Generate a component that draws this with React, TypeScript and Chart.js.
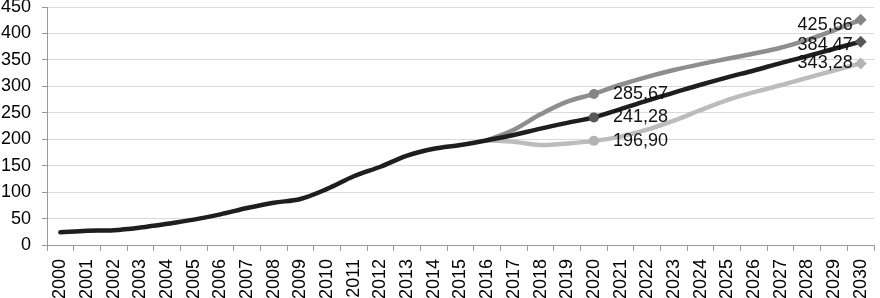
import React, { useEffect, useRef } from "react";
import { Chart, registerables } from "chart.js";

Chart.register(...registerables);

const years: string[] = [];
for (let y = 2000; y <= 2030; y++) years.push(String(y));

const baseSeries: (number | null)[] = [
  24, 27, 28, 33, 40, 48, 58, 70, 80, 87, 106, 130, 148, 169, 182, 189, 198, 208, 220, 231,
  241.28, 257, 273, 288, 303, 317, 330, 344, 357, 371, 384.47,
];
const highSeries: (number | null)[] = [
  null, null, null, null, null, null, null, null, null, null, null, null, null, null, null, null,
  198, 218, 247, 271, 285.67, 303, 318, 331, 342, 352, 362, 373, 388, 406, 425.66,
];
const lowSeries: (number | null)[] = [
  null, null, null, null, null, null, null, null, null, null, null, null, null, null, null, null,
  198, 195, 189, 192, 196.9, 205, 218, 235, 255, 274, 289, 302, 316, 330, 343.28,
];
const yTicks = { min: 0, max: 450, step: 50 };
const labelIndices = [20, 30];

const FONT = "'Liberation Sans', Arial, sans-serif";

export default function App() {
  const ref = useRef<HTMLCanvasElement | null>(null);
  useEffect(() => {
    if (!ref.current) return;
    const labelPlugin = {
      id: "valueLabels",
      afterDatasetsDraw(chart: any) {
        const ctx = chart.ctx;
        ctx.save();
        ctx.font = `18px ${FONT}`;
        ctx.fillStyle = "#111";
        chart.data.datasets.forEach((ds: any, i: number) => {
          const meta = chart.getDatasetMeta(i);
          labelIndices.forEach((idx) => {
            const v = ds.data[idx];
            const pt = meta.data[idx];
            if (v == null || !pt) return;
            const text = v.toFixed(2).replace(".", ",");
            if (idx === 20) {
              ctx.textAlign = "left";
              ctx.textBaseline = "middle";
              ctx.fillText(text, pt.x + 19, pt.y);
            } else {
              ctx.textAlign = "right";
              ctx.textBaseline = "middle";
              ctx.fillText(text, pt.x - 8, pt.y + (ds.endLabelDy || 0));
            }
          });
        });
        ctx.restore();
      },
    };
    const markerRadius = (c: any) => (c.dataIndex === 20 ? 5 : c.dataIndex === 30 ? 6 : 0);
    const markerStyle = (c: any) => (c.dataIndex === 30 ? "rectRot" : "circle");
    const mk = (label: string, data: any[], line: string, marker: string, dy: number) => ({
      label,
      data,
      borderColor: line,
      backgroundColor: marker,
      pointBackgroundColor: marker,
      pointBorderColor: marker,
      pointBorderWidth: 0,
      pointRadius: markerRadius,
      pointStyle: markerStyle,
      borderWidth: 4.5,
      borderCapStyle: "round",
      borderJoinStyle: "round",
      tension: 0.35,
      spanGaps: false,
      endLabelDy: dy,
    });
    const chart = new Chart(ref.current, {
      type: "line",
      data: {
        labels: years,
        datasets: [
          mk("base", baseSeries, "#1e1e1e", "#575757", 3) as any,
          mk("high", highSeries, "#8e8e8e", "#858585", 5) as any,
          mk("low", lowSeries, "#bcbcbc", "#b3b3b3", 0) as any,
        ],
      },
      options: {
        animation: false,
        responsive: false,
        maintainAspectRatio: false,
        layout: { padding: 0 },
        plugins: {
          legend: { display: false },
          tooltip: { enabled: false },
        },
        scales: {
          x: {
            offset: true,
            grid: {
              offset: true,
              drawOnChartArea: false,
              drawTicks: true,
              tickLength: 6,
              tickColor: "#9a9a9a",
            },
            border: { color: "#9a9a9a", width: 1 },
            ticks: {
              autoSkip: false,
              minRotation: 90,
              maxRotation: 90,
              padding: 8,
              color: "#000",
              font: { family: FONT, size: 18 },
            },
            afterFit: (s: any) => {
              s.height = 53;
              s.paddingLeft = 0;
              s.paddingRight = 0;
            },
          },
          y: {
            min: yTicks.min,
            max: yTicks.max,
            grid: {
              color: "#d9d9d9",
              tickColor: "#9a9a9a",
              tickLength: 5,
            },
            border: { color: "#9a9a9a", width: 1 },
            ticks: {
              stepSize: yTicks.step,
              padding: 11,
              color: "#000",
              font: { family: FONT, size: 18 },
            },
            afterFit: (s: any) => {
              s.width = 47;
              s.paddingTop = 7;
              s.paddingBottom = 0;
            },
          },
        },
      },
      plugins: [labelPlugin],
    } as any);
    return () => chart.destroy();
  }, []);
  return (
    <canvas
      ref={ref}
      width={880}
      height={298}
      style={{ position: "absolute", left: 0, top: 0, width: 880, height: 298, display: "block" }}
    />
  );
}
